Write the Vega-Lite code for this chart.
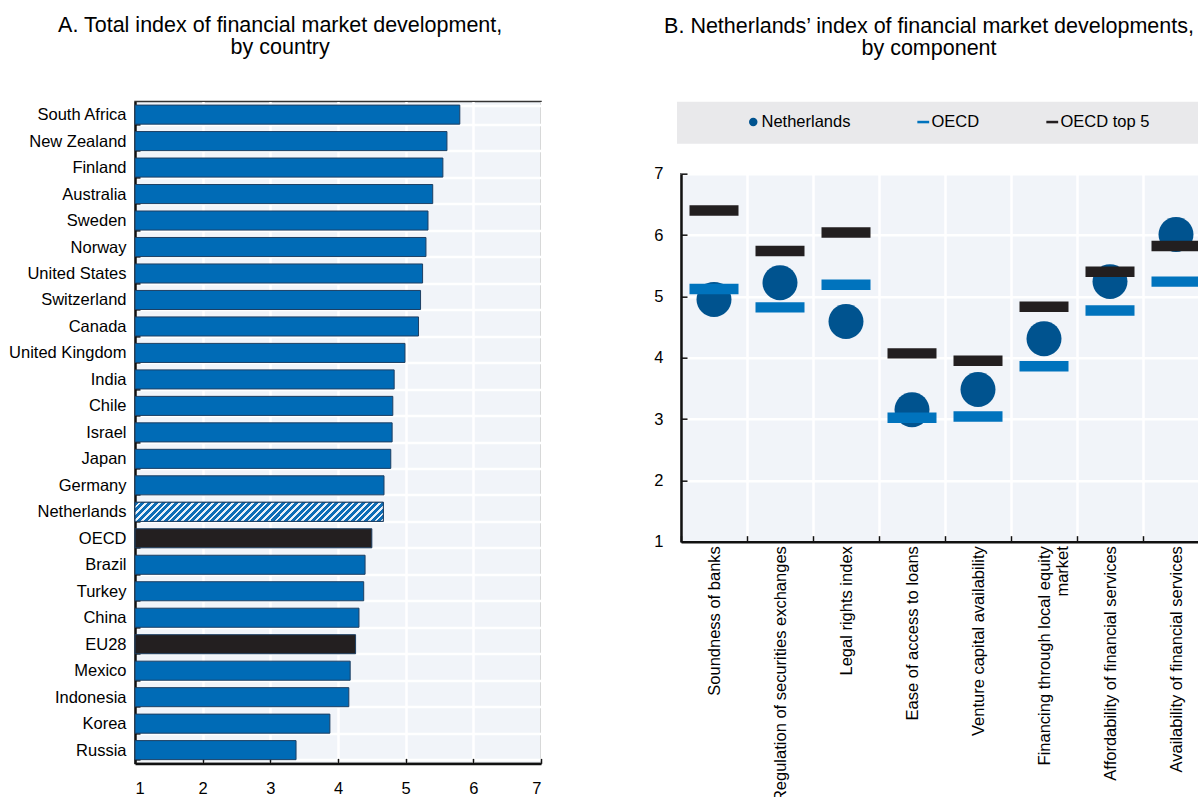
{
  "$schema": "https://vega.github.io/schema/vega-lite/v6.json",
  "padding": {"left": 7, "top": 14, "right": 0, "bottom": 0},
  "background": "#ffffff",
  "spacing": 110,
  "center": true,
  "resolve": {"scale": {"color": "independent", "shape": "independent"}, "legend": {"color": "independent", "shape": "independent"}},
  "datasets": {
    "countries": [
      {"country": "South Africa", "value": 5.80, "group": "country"},
      {"country": "New Zealand", "value": 5.61, "group": "country"},
      {"country": "Finland", "value": 5.55, "group": "country"},
      {"country": "Australia", "value": 5.40, "group": "country"},
      {"country": "Sweden", "value": 5.33, "group": "country"},
      {"country": "Norway", "value": 5.30, "group": "country"},
      {"country": "United States", "value": 5.25, "group": "country"},
      {"country": "Switzerland", "value": 5.22, "group": "country"},
      {"country": "Canada", "value": 5.19, "group": "country"},
      {"country": "United Kingdom", "value": 4.99, "group": "country"},
      {"country": "India", "value": 4.83, "group": "country"},
      {"country": "Chile", "value": 4.81, "group": "country"},
      {"country": "Israel", "value": 4.80, "group": "country"},
      {"country": "Japan", "value": 4.78, "group": "country"},
      {"country": "Germany", "value": 4.68, "group": "country"},
      {"country": "Netherlands", "value": 4.67, "group": "highlight"},
      {"country": "OECD", "value": 4.50, "group": "aggregate"},
      {"country": "Brazil", "value": 4.40, "group": "country"},
      {"country": "Turkey", "value": 4.38, "group": "country"},
      {"country": "China", "value": 4.31, "group": "country"},
      {"country": "EU28", "value": 4.26, "group": "aggregate"},
      {"country": "Mexico", "value": 4.18, "group": "country"},
      {"country": "Indonesia", "value": 4.16, "group": "country"},
      {"country": "Korea", "value": 3.88, "group": "country"},
      {"country": "Russia", "value": 3.38, "group": "country"}
    ],
    "components": [
      {"component": "Soundness of banks", "series": "Netherlands", "value": 4.95},
      {"component": "Regulation of securities exchanges", "series": "Netherlands", "value": 5.22},
      {"component": "Legal rights index", "series": "Netherlands", "value": 4.59},
      {"component": "Ease of access to loans", "series": "Netherlands", "value": 3.15},
      {"component": "Venture capital availability", "series": "Netherlands", "value": 3.48},
      {"component": "Financing through local equity market", "series": "Netherlands", "value": 4.31},
      {"component": "Affordability of financial services", "series": "Netherlands", "value": 5.24},
      {"component": "Availability of financial services", "series": "Netherlands", "value": 6.01},
      {"component": "Soundness of banks", "series": "OECD", "value": 5.12},
      {"component": "Regulation of securities exchanges", "series": "OECD", "value": 4.82},
      {"component": "Legal rights index", "series": "OECD", "value": 5.19},
      {"component": "Ease of access to loans", "series": "OECD", "value": 3.02},
      {"component": "Venture capital availability", "series": "OECD", "value": 3.04},
      {"component": "Financing through local equity market", "series": "OECD", "value": 3.86},
      {"component": "Affordability of financial services", "series": "OECD", "value": 4.77},
      {"component": "Availability of financial services", "series": "OECD", "value": 5.24},
      {"component": "Soundness of banks", "series": "OECD top 5", "value": 6.40},
      {"component": "Regulation of securities exchanges", "series": "OECD top 5", "value": 5.74},
      {"component": "Legal rights index", "series": "OECD top 5", "value": 6.04},
      {"component": "Ease of access to loans", "series": "OECD top 5", "value": 4.07},
      {"component": "Venture capital availability", "series": "OECD top 5", "value": 3.95},
      {"component": "Financing through local equity market", "series": "OECD top 5", "value": 4.83},
      {"component": "Affordability of financial services", "series": "OECD top 5", "value": 5.40},
      {"component": "Availability of financial services", "series": "OECD top 5", "value": 5.82}
    ]
  },
  "hconcat": [
    {
      "width": 406,
      "height": 662,
      "title": {"text": ["A. Total index of financial market development,", "by country"], "frame": "bounds", "anchor": "middle", "offset": 35, "dx": 5},
      "data": {"name": "countries"},
      "layer": [
        {
          "mark": {"type": "bar", "stroke": "#1d3f63", "strokeWidth": 1},
          "encoding": {
            "y": {"field": "country", "type": "nominal", "sort": null,
              "scale": {"paddingInner": 0.28, "paddingOuter": 0.14},
              "axis": {"title": null, "tickBand": "extent", "tickSize": -5, "labelPadding": 14, "labelLimit": 250}},
            "x": {"field": "value", "type": "quantitative",
              "scale": {"domain": [1, 7], "nice": false, "zero": false},
              "axis": {"title": "\u00a0", "titleFontSize": 10, "titlePadding": 67, "values": [1, 2, 3, 4, 5, 6, 7], "format": "d", "tickSize": -5, "labelPadding": 22}},
            "x2": {"datum": 1},
            "color": {"field": "group", "type": "nominal",
              "scale": {"domain": ["country", "aggregate", "highlight"], "range": ["#006bb6", "#231f20", "#006bb6"]},
              "legend": null}
          }
        },
        {
          "transform": [{"filter": "datum.group === 'highlight'"}],
          "mark": {"type": "bar", "stroke": "#1d3f63", "strokeWidth": 1,
            "color": {"gradient": "linear", "x1": 0, "y1": 0, "x2": 1.07, "y2": 0.082, "stops": [
              {"offset": 0, "color": "#0d6db6"}, {"offset": 0.015, "color": "#0d6db6"}, {"offset": 0.015, "color": "#eaf1f9"}, {"offset": 0.025, "color": "#eaf1f9"},
              {"offset": 0.025, "color": "#0d6db6"}, {"offset": 0.04, "color": "#0d6db6"}, {"offset": 0.04, "color": "#eaf1f9"}, {"offset": 0.05, "color": "#eaf1f9"},
              {"offset": 0.05, "color": "#0d6db6"}, {"offset": 0.065, "color": "#0d6db6"}, {"offset": 0.065, "color": "#eaf1f9"}, {"offset": 0.075, "color": "#eaf1f9"},
              {"offset": 0.075, "color": "#0d6db6"}, {"offset": 0.09, "color": "#0d6db6"}, {"offset": 0.09, "color": "#eaf1f9"}, {"offset": 0.1, "color": "#eaf1f9"},
              {"offset": 0.1, "color": "#0d6db6"}, {"offset": 0.115, "color": "#0d6db6"}, {"offset": 0.115, "color": "#eaf1f9"}, {"offset": 0.125, "color": "#eaf1f9"},
              {"offset": 0.125, "color": "#0d6db6"}, {"offset": 0.14, "color": "#0d6db6"}, {"offset": 0.14, "color": "#eaf1f9"}, {"offset": 0.15, "color": "#eaf1f9"},
              {"offset": 0.15, "color": "#0d6db6"}, {"offset": 0.165, "color": "#0d6db6"}, {"offset": 0.165, "color": "#eaf1f9"}, {"offset": 0.175, "color": "#eaf1f9"},
              {"offset": 0.175, "color": "#0d6db6"}, {"offset": 0.19, "color": "#0d6db6"}, {"offset": 0.19, "color": "#eaf1f9"}, {"offset": 0.2, "color": "#eaf1f9"},
              {"offset": 0.2, "color": "#0d6db6"}, {"offset": 0.215, "color": "#0d6db6"}, {"offset": 0.215, "color": "#eaf1f9"}, {"offset": 0.225, "color": "#eaf1f9"},
              {"offset": 0.225, "color": "#0d6db6"}, {"offset": 0.24, "color": "#0d6db6"}, {"offset": 0.24, "color": "#eaf1f9"}, {"offset": 0.25, "color": "#eaf1f9"},
              {"offset": 0.25, "color": "#0d6db6"}, {"offset": 0.265, "color": "#0d6db6"}, {"offset": 0.265, "color": "#eaf1f9"}, {"offset": 0.275, "color": "#eaf1f9"},
              {"offset": 0.275, "color": "#0d6db6"}, {"offset": 0.29, "color": "#0d6db6"}, {"offset": 0.29, "color": "#eaf1f9"}, {"offset": 0.3, "color": "#eaf1f9"},
              {"offset": 0.3, "color": "#0d6db6"}, {"offset": 0.315, "color": "#0d6db6"}, {"offset": 0.315, "color": "#eaf1f9"}, {"offset": 0.325, "color": "#eaf1f9"},
              {"offset": 0.325, "color": "#0d6db6"}, {"offset": 0.34, "color": "#0d6db6"}, {"offset": 0.34, "color": "#eaf1f9"}, {"offset": 0.35, "color": "#eaf1f9"},
              {"offset": 0.35, "color": "#0d6db6"}, {"offset": 0.365, "color": "#0d6db6"}, {"offset": 0.365, "color": "#eaf1f9"}, {"offset": 0.375, "color": "#eaf1f9"},
              {"offset": 0.375, "color": "#0d6db6"}, {"offset": 0.39, "color": "#0d6db6"}, {"offset": 0.39, "color": "#eaf1f9"}, {"offset": 0.4, "color": "#eaf1f9"},
              {"offset": 0.4, "color": "#0d6db6"}, {"offset": 0.415, "color": "#0d6db6"}, {"offset": 0.415, "color": "#eaf1f9"}, {"offset": 0.425, "color": "#eaf1f9"},
              {"offset": 0.425, "color": "#0d6db6"}, {"offset": 0.44, "color": "#0d6db6"}, {"offset": 0.44, "color": "#eaf1f9"}, {"offset": 0.45, "color": "#eaf1f9"},
              {"offset": 0.45, "color": "#0d6db6"}, {"offset": 0.465, "color": "#0d6db6"}, {"offset": 0.465, "color": "#eaf1f9"}, {"offset": 0.475, "color": "#eaf1f9"},
              {"offset": 0.475, "color": "#0d6db6"}, {"offset": 0.49, "color": "#0d6db6"}, {"offset": 0.49, "color": "#eaf1f9"}, {"offset": 0.5, "color": "#eaf1f9"},
              {"offset": 0.5, "color": "#0d6db6"}, {"offset": 0.515, "color": "#0d6db6"}, {"offset": 0.515, "color": "#eaf1f9"}, {"offset": 0.525, "color": "#eaf1f9"},
              {"offset": 0.525, "color": "#0d6db6"}, {"offset": 0.54, "color": "#0d6db6"}, {"offset": 0.54, "color": "#eaf1f9"}, {"offset": 0.55, "color": "#eaf1f9"},
              {"offset": 0.55, "color": "#0d6db6"}, {"offset": 0.565, "color": "#0d6db6"}, {"offset": 0.565, "color": "#eaf1f9"}, {"offset": 0.575, "color": "#eaf1f9"},
              {"offset": 0.575, "color": "#0d6db6"}, {"offset": 0.59, "color": "#0d6db6"}, {"offset": 0.59, "color": "#eaf1f9"}, {"offset": 0.6, "color": "#eaf1f9"},
              {"offset": 0.6, "color": "#0d6db6"}, {"offset": 0.615, "color": "#0d6db6"}, {"offset": 0.615, "color": "#eaf1f9"}, {"offset": 0.625, "color": "#eaf1f9"},
              {"offset": 0.625, "color": "#0d6db6"}, {"offset": 0.64, "color": "#0d6db6"}, {"offset": 0.64, "color": "#eaf1f9"}, {"offset": 0.65, "color": "#eaf1f9"},
              {"offset": 0.65, "color": "#0d6db6"}, {"offset": 0.665, "color": "#0d6db6"}, {"offset": 0.665, "color": "#eaf1f9"}, {"offset": 0.675, "color": "#eaf1f9"},
              {"offset": 0.675, "color": "#0d6db6"}, {"offset": 0.69, "color": "#0d6db6"}, {"offset": 0.69, "color": "#eaf1f9"}, {"offset": 0.7, "color": "#eaf1f9"},
              {"offset": 0.7, "color": "#0d6db6"}, {"offset": 0.715, "color": "#0d6db6"}, {"offset": 0.715, "color": "#eaf1f9"}, {"offset": 0.725, "color": "#eaf1f9"},
              {"offset": 0.725, "color": "#0d6db6"}, {"offset": 0.74, "color": "#0d6db6"}, {"offset": 0.74, "color": "#eaf1f9"}, {"offset": 0.75, "color": "#eaf1f9"},
              {"offset": 0.75, "color": "#0d6db6"}, {"offset": 0.765, "color": "#0d6db6"}, {"offset": 0.765, "color": "#eaf1f9"}, {"offset": 0.775, "color": "#eaf1f9"},
              {"offset": 0.775, "color": "#0d6db6"}, {"offset": 0.79, "color": "#0d6db6"}, {"offset": 0.79, "color": "#eaf1f9"}, {"offset": 0.8, "color": "#eaf1f9"},
              {"offset": 0.8, "color": "#0d6db6"}, {"offset": 0.815, "color": "#0d6db6"}, {"offset": 0.815, "color": "#eaf1f9"}, {"offset": 0.825, "color": "#eaf1f9"},
              {"offset": 0.825, "color": "#0d6db6"}, {"offset": 0.84, "color": "#0d6db6"}, {"offset": 0.84, "color": "#eaf1f9"}, {"offset": 0.85, "color": "#eaf1f9"},
              {"offset": 0.85, "color": "#0d6db6"}, {"offset": 0.865, "color": "#0d6db6"}, {"offset": 0.865, "color": "#eaf1f9"}, {"offset": 0.875, "color": "#eaf1f9"},
              {"offset": 0.875, "color": "#0d6db6"}, {"offset": 0.89, "color": "#0d6db6"}, {"offset": 0.89, "color": "#eaf1f9"}, {"offset": 0.9, "color": "#eaf1f9"},
              {"offset": 0.9, "color": "#0d6db6"}, {"offset": 0.915, "color": "#0d6db6"}, {"offset": 0.915, "color": "#eaf1f9"}, {"offset": 0.925, "color": "#eaf1f9"},
              {"offset": 0.925, "color": "#0d6db6"}, {"offset": 0.94, "color": "#0d6db6"}, {"offset": 0.94, "color": "#eaf1f9"}, {"offset": 0.95, "color": "#eaf1f9"},
              {"offset": 0.95, "color": "#0d6db6"}, {"offset": 0.965, "color": "#0d6db6"}, {"offset": 0.965, "color": "#eaf1f9"}, {"offset": 0.975, "color": "#eaf1f9"},
              {"offset": 0.975, "color": "#0d6db6"}, {"offset": 0.99, "color": "#0d6db6"}, {"offset": 0.99, "color": "#eaf1f9"}, {"offset": 1, "color": "#eaf1f9"}
            ]}},
          "encoding": {
            "y": {"field": "country", "type": "nominal", "sort": null},
            "x": {"field": "value", "type": "quantitative"},
            "x2": {"datum": 1}
          }
        }
      ]
    },
    {
      "width": 528,
      "height": 368,
      "title": {"text": ["B. Netherlands\u2019 index of financial market developments,", "by component"], "frame": "group", "anchor": "middle", "offset": 42, "dx": -16},
      "data": {"name": "components"},
      "mark": {"type": "point", "filled": true, "opacity": 1, "size": 2401},
      "encoding": {
        "x": {"field": "component", "type": "nominal",
          "sort": ["Soundness of banks", "Regulation of securities exchanges", "Legal rights index", "Ease of access to loans", "Venture capital availability", "Financing through local equity market", "Affordability of financial services", "Availability of financial services"],
          "scale": {"type": "band", "paddingInner": 0, "paddingOuter": 0},
          "axis": {"title": null, "labelAngle": -90, "labelAlign": "right", "labelBaseline": "middle", "labelPadding": 10, "labelLimit": 400, "labelLineHeight": 18, "tickBand": "extent", "tickSize": -6,
            "labelExpr": "datum.label === 'Financing through local equity market' ? ['Financing through local equity', 'market'] : datum.label"}},
        "y": {"field": "value", "type": "quantitative",
          "scale": {"domain": [1, 7], "nice": false, "zero": false},
          "axis": {"title": null, "values": [1, 2, 3, 4, 5, 6, 7], "tickSize": -6, "labelPadding": 24}},
        "color": {"field": "series", "type": "nominal",
          "scale": {"domain": ["Netherlands", "OECD", "OECD top 5"], "range": ["#00538f", "#0073bd", "#231f20"]},
          "legend": {"orient": "none", "legendX": -4, "legendY": -72, "direction": "horizontal",
            "title": "\u00a0", "titleOrient": "left", "titlePadding": 56, "titleFontSize": 20,
            "fillColor": "#e9e9eb", "padding": 12, "columnPadding": 64, "symbolSize": 140, "symbolStrokeWidth": 0,
            "labelOffset": 0, "labelLimit": 400,
            "labelExpr": "datum.label === 'OECD top 5' ? 'OECD top 5\u2800\u2800\u2800\u2800\u2800\u2800\u2800\u2800\u2800\u2800' : datum.label",
            "encode": {"symbols": {"update": {"shape": {"signal": "datum.value === 'Netherlands' ? 'circle' : 'M-1,-0.2H1V0.2H-1Z'"}}}}}},
        "shape": {"field": "series", "type": "nominal",
          "scale": {"domain": ["Netherlands", "OECD", "OECD top 5"], "range": ["M-0.714,0A0.714,0.714 0 1,1 0.714,0A0.714,0.714 0 1,1 -0.714,0Z", "M-1,-0.214H1V0.214H-1Z", "M-1,-0.214H1V0.214H-1Z"]},
          "legend": {"orient": "none", "legendX": -4, "legendY": -72, "direction": "horizontal",
            "title": "\u00a0", "titleOrient": "left", "titlePadding": 56, "titleFontSize": 20,
            "fillColor": "#e9e9eb", "padding": 12, "columnPadding": 64, "symbolSize": 140, "symbolStrokeWidth": 0,
            "labelOffset": 0, "labelLimit": 400,
            "labelExpr": "datum.label === 'OECD top 5' ? 'OECD top 5\u2800\u2800\u2800\u2800\u2800\u2800\u2800\u2800\u2800\u2800' : datum.label",
            "encode": {"symbols": {"update": {"shape": {"signal": "datum.value === 'Netherlands' ? 'circle' : 'M-1,-0.2H1V0.2H-1Z'"}}}}}}
      }
    }
  ],
  "config": {
    "view": {"fill": "#f1f4f9", "stroke": "#333333", "strokeWidth": 1.5},
    "title": {"font": "Liberation Sans", "fontSize": 21.5, "fontWeight": "normal", "color": "#000000", "lineHeight": 22},
    "axis": {"labelFont": "Liberation Sans", "labelFontSize": 16.5, "labelColor": "#000000",
      "domainColor": "#111111", "domainWidth": 2.5, "tickColor": "#111111", "tickWidth": 1.5,
      "grid": true, "gridColor": "#ffffff", "gridWidth": 2.5},
    "legend": {"labelFont": "Liberation Sans", "labelFontSize": 16.5, "labelColor": "#000000", "titleFont": "Liberation Sans"}
  }
}
